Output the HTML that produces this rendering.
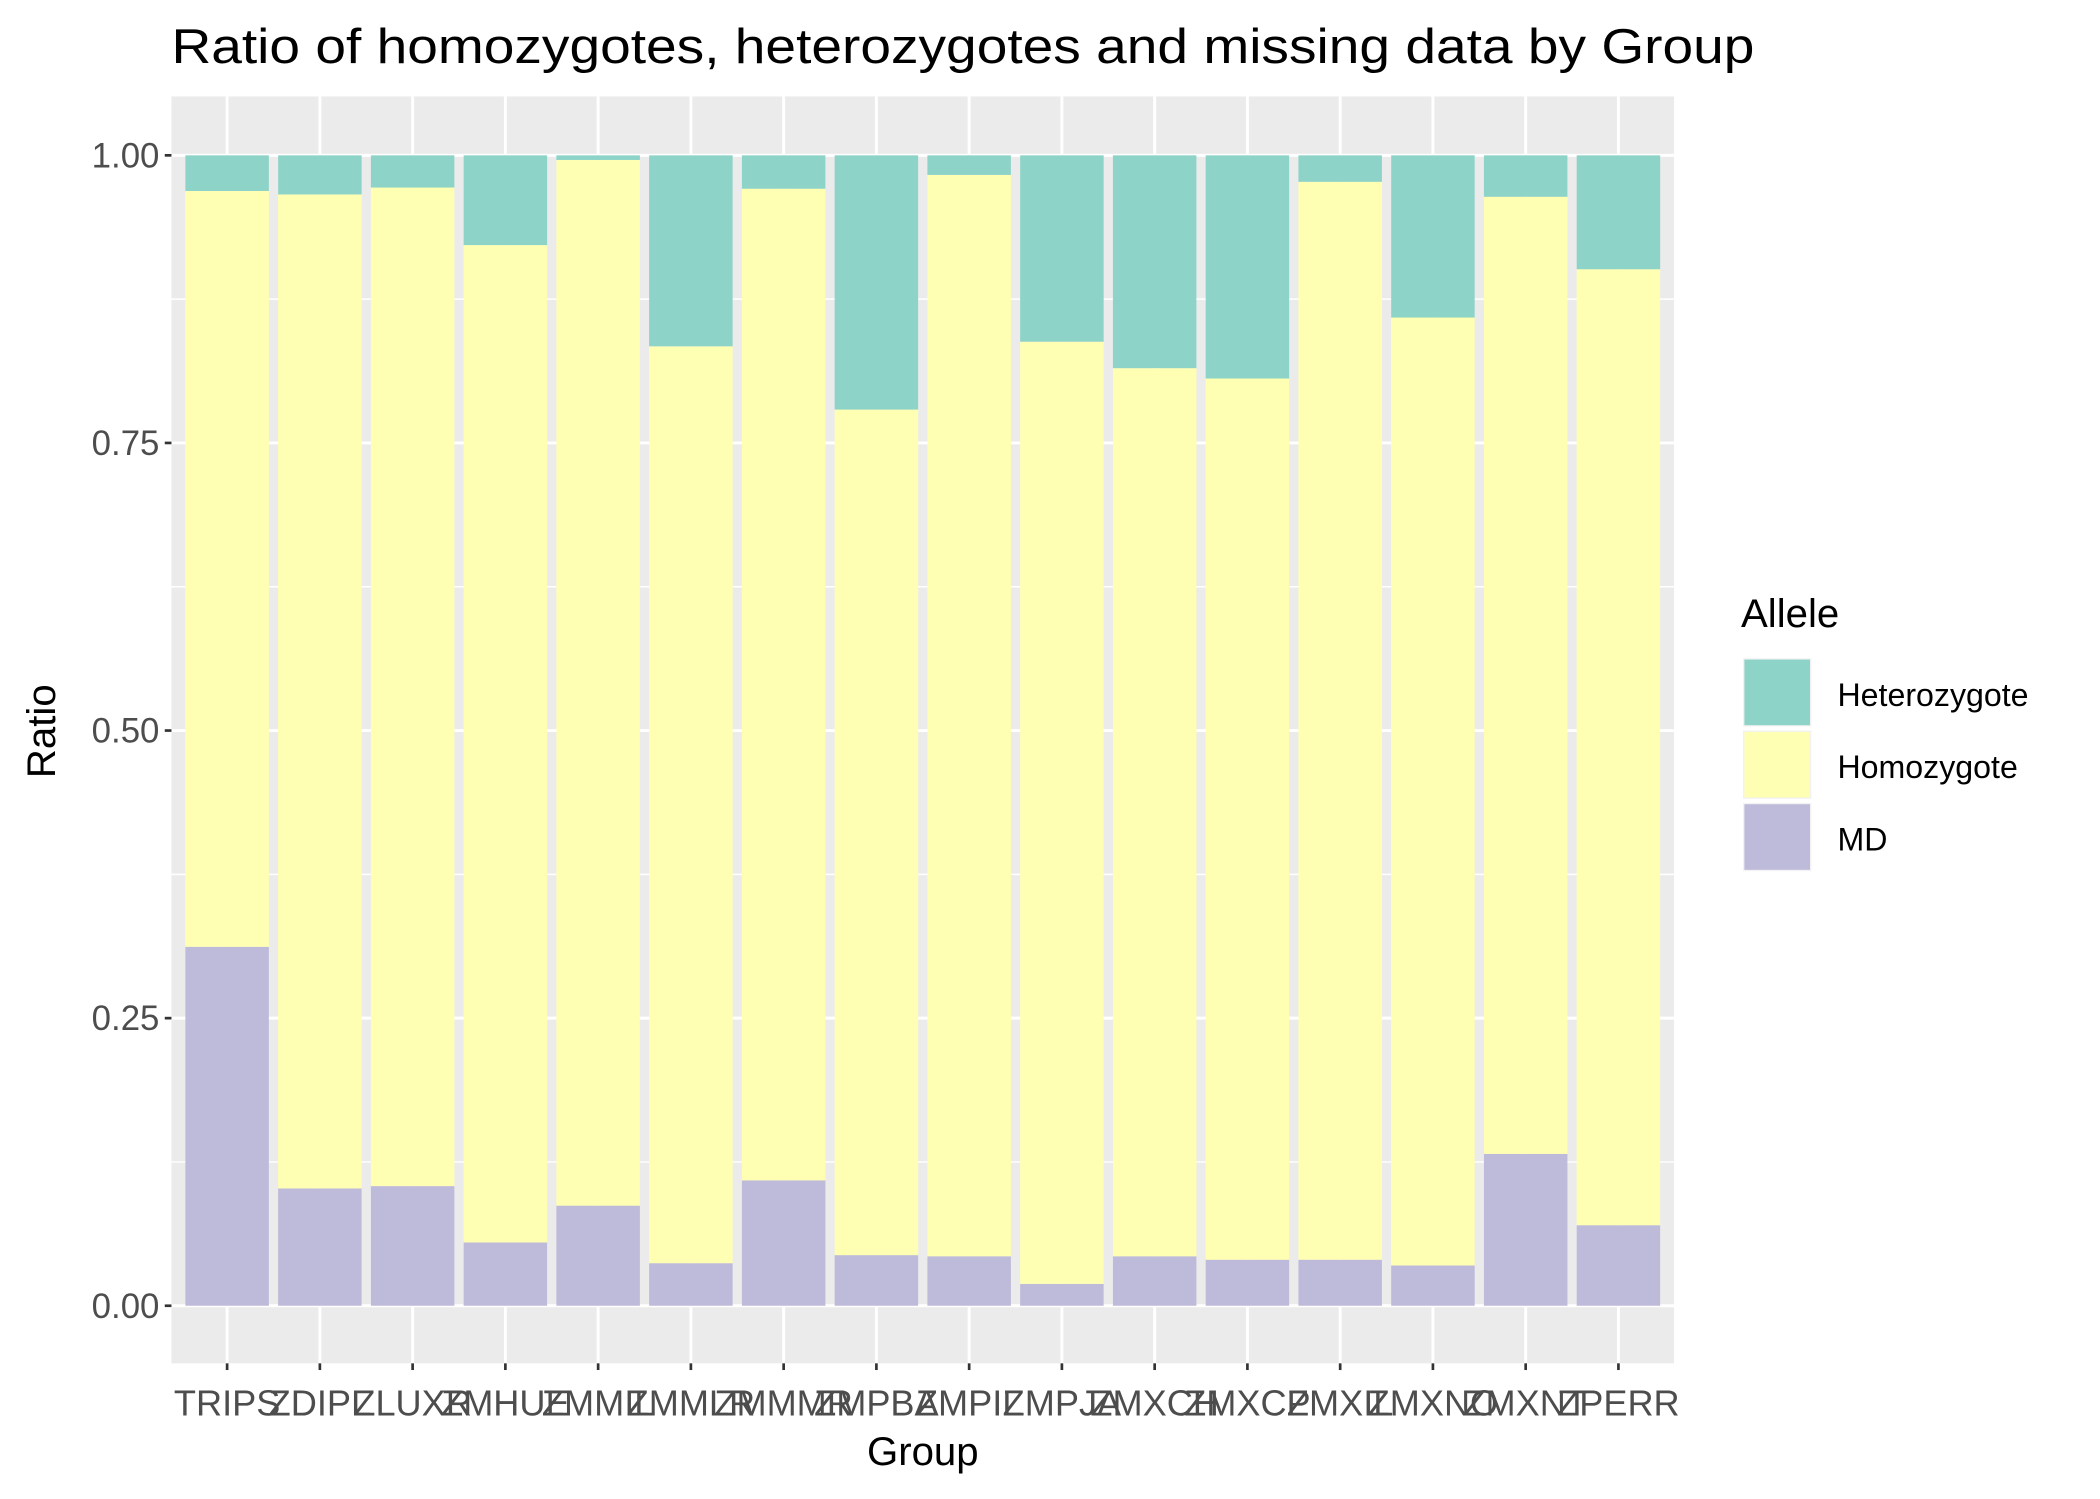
<!DOCTYPE html>
<html><head><meta charset="utf-8"><style>html,body{margin:0;padding:0;background:#fff}svg{display:block;font-family:"Liberation Sans",Arial,sans-serif}</style></head>
<body>
<svg id="chart" width="2100" height="1499" viewBox="0 0 1568 1119.3" xmlns="http://www.w3.org/2000/svg">
<rect width="1568" height="1119.3" fill="#fff"/>
<text x="128" y="47" font-size="37" fill="#000" textLength="1182" lengthAdjust="spacingAndGlyphs">Ratio of homozygotes, heterozygotes and missing data by Group</text>
<g id="panel"></g>
<text x="689" y="1094" font-size="30" text-anchor="middle">Group</text>
<text transform="translate(41,546) rotate(-90)" font-size="30" text-anchor="middle">Ratio</text>
<g>
<text x="1300" y="468" font-size="30">Allele</text>
<rect x="1302" y="492" width="50" height="50" fill="#8DD3C7" stroke="#f2f2f2"/>
<rect x="1302" y="546" width="50" height="50" fill="#FFFFB3" stroke="#f2f2f2"/>
<rect x="1302" y="600" width="50" height="50" fill="#BEBADA" stroke="#f2f2f2"/>
<text x="1372" y="527" font-size="24">Heterozygote</text>
<text x="1372" y="581" font-size="24">Homozygote</text>
<text x="1372" y="635" font-size="24">MD</text>
</g>
</svg>
<script>
const groups = ["TRIPS","ZDIPL","ZLUXR","ZMHUE","ZMMIL","ZMMLR","ZMMMR","ZMPBA","ZMPIL","ZMPJA","ZMXCH","ZMXCP","ZMXIL","ZMXNO","ZMXNT","ZPERR"];
const mdValues = [0.312,0.102,0.104,0.055,0.087,0.037,0.109,0.044,0.043,0.019,0.043,0.040,0.040,0.035,0.132,0.070];
const homoValues = [0.657,0.864,0.868,0.867,0.909,0.797,0.862,0.735,0.940,0.819,0.772,0.766,0.937,0.824,0.832,0.831];
const hetValues = [0.031,0.034,0.028,0.078,0.004,0.166,0.029,0.221,0.017,0.162,0.185,0.194,0.023,0.141,0.036,0.099];
const yTicks = [0,0.25,0.5,0.75,1];
const yTickLabels = ["0.00","0.25","0.50","0.75","1.00"];

const NS="http://www.w3.org/2000/svg";
const P={l:128,r:1250,t:72,b:1018};
const y=v=>975-v*859;
const step=(P.r-P.l)/(groups.length-1+1.2);
const x=i=>P.l+step*(0.6+i);
const bw=step*0.9;
const g=document.getElementById('panel');
function mk(tag,attrs,parent){const e=document.createElementNS(NS,tag);for(const k in attrs)e.setAttribute(k,attrs[k]);(parent||g).appendChild(e);return e;}
let e=mk('rect',{x:P.l,y:P.t,width:P.r-P.l,height:P.b-P.t,fill:'#EBEBEB'});


for(let i=0;i<yTicks.length-1;i++){
  const m=(yTicks[i]+yTicks[i+1])/2;
  e=mk('line',{x1:P.l,x2:P.r,y1:y(m),y2:y(m),stroke:'#fff','stroke-width':1.1});
  
  
}
yTicks.forEach((t,i)=>{
  e=mk('line',{x1:P.l,x2:P.r,y1:y(t),y2:y(t),stroke:'#fff','stroke-width':2.2});
  
  
  e=mk('line',{x1:P.l-5,x2:P.l,y1:y(t),y2:y(t),stroke:'#333','stroke-width':2});
  
  
  e=mk('text',{x:P.l-9,y:y(t)+9,'font-size':26,'text-anchor':'end',fill:'#4D4D4D'});
  e.textContent=yTickLabels[i];
  
  
});
groups.forEach((gr,i)=>{
  e=mk('line',{x1:x(i),x2:x(i),y1:P.t,y2:P.b,stroke:'#fff','stroke-width':2.2});
  
  
});
groups.forEach((gr,i)=>{
  const md=mdValues[i],ho=homoValues[i],he=hetValues[i];
  e=mk('rect',{x:x(i)-bw/2,y:y(md),width:bw,height:y(0)-y(md),fill:'#BEBADA'});
  
  
  e=mk('rect',{x:x(i)-bw/2,y:y(md+ho),width:bw,height:y(md)-y(md+ho),fill:'#FFFFB3'});
  
  
  e=mk('rect',{x:x(i)-bw/2,y:y(md+ho+he),width:bw,height:y(md+ho)-y(md+ho+he),fill:'#8DD3C7'});
  
  
  e=mk('line',{x1:x(i),x2:x(i),y1:P.b,y2:P.b+5,stroke:'#333','stroke-width':2});
  
  
  e=mk('text',{x:x(i),y:P.b+39,'font-size':27,'text-anchor':'middle',fill:'#4D4D4D'});
  e.textContent=gr;
  
  
});
</script>
</body></html>
